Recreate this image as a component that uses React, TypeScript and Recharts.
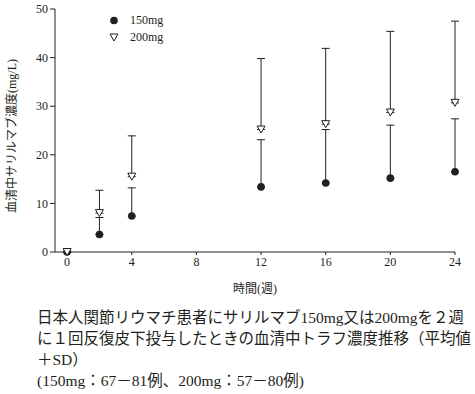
import React from 'react';
import { ScatterChart, Scatter, XAxis, YAxis, ErrorBar } from 'recharts';

const weeks = [0, 2, 4, 12, 16, 20, 24];
const mean150 = [0, 3.6, 7.4, 13.4, 14.2, 15.2, 16.5];
const sd150 = [0, 3.5, 5.8, 9.7, 11.0, 10.9, 10.9];
const mean200 = [0, 8.0, 15.5, 25.2, 26.3, 28.7, 30.7];
const sd200 = [0, 4.7, 8.4, 14.6, 15.6, 16.7, 16.8];

const xTicks = [0, 4, 8, 12, 16, 20, 24];
const yTicks = [0, 10, 20, 30, 40, 50];
const yMinorTicks = Array.from({ length: 51 }, (_, i) => i);

const seriesNames = ['150mg', '200mg'];
const captionLines = [
  '日本人関節リウマチ患者にサリルマブ150mg又は200mgを２週',
  'に１回反復皮下投与したときの血清中トラフ濃度推移（平均値',
  '＋SD）',
  '(150mg：67－81例、200mg：57－80例)',
];

const data150 = weeks.map((w, i) => ({ x: w, y: mean150[i], err: [0, sd150[i]] }));
const data200 = weeks.map((w, i) => ({ x: w, y: mean200[i], err: [0, sd200[i]] }));

const INK = '#231f20';
const FONT = '"Liberation Serif", "DejaVu Serif", "Noto Sans CJK JP", serif';

const Circle = (p: any) => <circle cx={p.cx} cy={p.cy} r={3.8} fill={INK} stroke="none" />;
const DownTri = (p: any) => {
  const { cx, cy } = p;
  const h = 7, w = 8;
  const pts = `${cx - w / 2},${cy - h / 2} ${cx + w / 2},${cy - h / 2} ${cx},${cy + h / 2}`;
  return <polygon points={pts} fill="#fff" stroke={INK} strokeWidth={1} />;
};

const LegendOverlay = () => (
  <div style={{ position: 'absolute', left: 106, top: 12, fontFamily: FONT, fontSize: 12, color: INK, lineHeight: '17px' }}>
    <div style={{ display: 'flex', alignItems: 'center' }}>
      <svg width={16} height={17}><circle cx={8} cy={8.5} r={3.8} fill={INK} /></svg>
      <span style={{ marginLeft: 8 }}>{seriesNames[0]}</span>
    </div>
    <div style={{ display: 'flex', alignItems: 'center' }}>
      <svg width={16} height={17}><polygon points="4,5 12,5 8,12" fill="#fff" stroke={INK} /></svg>
      <span style={{ marginLeft: 8 }}>{seriesNames[1]}</span>
    </div>
  </div>
);

export default function App() {
  return (
    <div style={{ position: 'absolute', left: 0, top: 0, width: 475, height: 394, background: '#fff', fontFamily: FONT }}>
      <ScatterChart width={475} height={300} margin={{ top: 9, right: 20, bottom: 8, left: 0 }}>
        <XAxis
          type="number"
          dataKey="x"
          domain={[-0.75, 24]}
          ticks={xTicks}
          tickSize={3}
          height={40}
          stroke={INK}
          tick={{ fill: INK, fontSize: 12, fontFamily: FONT }}
          label={{
            content: () => (
              <text x={255} y={293} textAnchor="middle" fontSize={12} fill={INK} fontFamily={FONT}>
                時間(週)
              </text>
            ),
          }}
        />
        <YAxis
          type="number"
          dataKey="y"
          domain={[0, 50]}
          ticks={yTicks}
          width={55}
          tickSize={5}
          stroke={INK}
          tick={{ fill: INK, fontSize: 12, fontFamily: FONT }}
          label={{
            content: () => (
              <text
                x={12}
                y={136}
                transform="rotate(-90 12 136)"
                textAnchor="middle"
                dominantBaseline="central"
                fontSize={12}
                fill={INK}
                fontFamily={FONT}
              >
                血清中サリルマブ濃度(mg/L)
              </text>
            ),
          }}
        />
        <YAxis
          yAxisId="minor"
          type="number"
          domain={[0, 50]}
          ticks={yMinorTicks}
          width={0}
          mirror
          tickSize={3}
          tick={false}
          axisLine={false}
          stroke={INK}
        />
        <Scatter name={seriesNames[0]} data={data150} shape={<Circle />} isAnimationActive={false}>
          <ErrorBar dataKey="err" direction="y" width={4} stroke={INK} strokeWidth={1} />
        </Scatter>
        <Scatter name={seriesNames[1]} data={data200} shape={<DownTri />} isAnimationActive={false}>
          <ErrorBar dataKey="err" direction="y" width={4} stroke={INK} strokeWidth={1} />
        </Scatter>
      </ScatterChart>
      <LegendOverlay />
      <div
        style={{
          position: 'absolute',
          left: 37,
          top: 307,
          fontSize: 15.5,
          lineHeight: '21px',
          color: INK,
          fontFamily: FONT,
          whiteSpace: 'nowrap',
        }}
      >
        {captionLines.map((l, i) => (
          <div key={i}>{l}</div>
        ))}
      </div>
    </div>
  );
}
